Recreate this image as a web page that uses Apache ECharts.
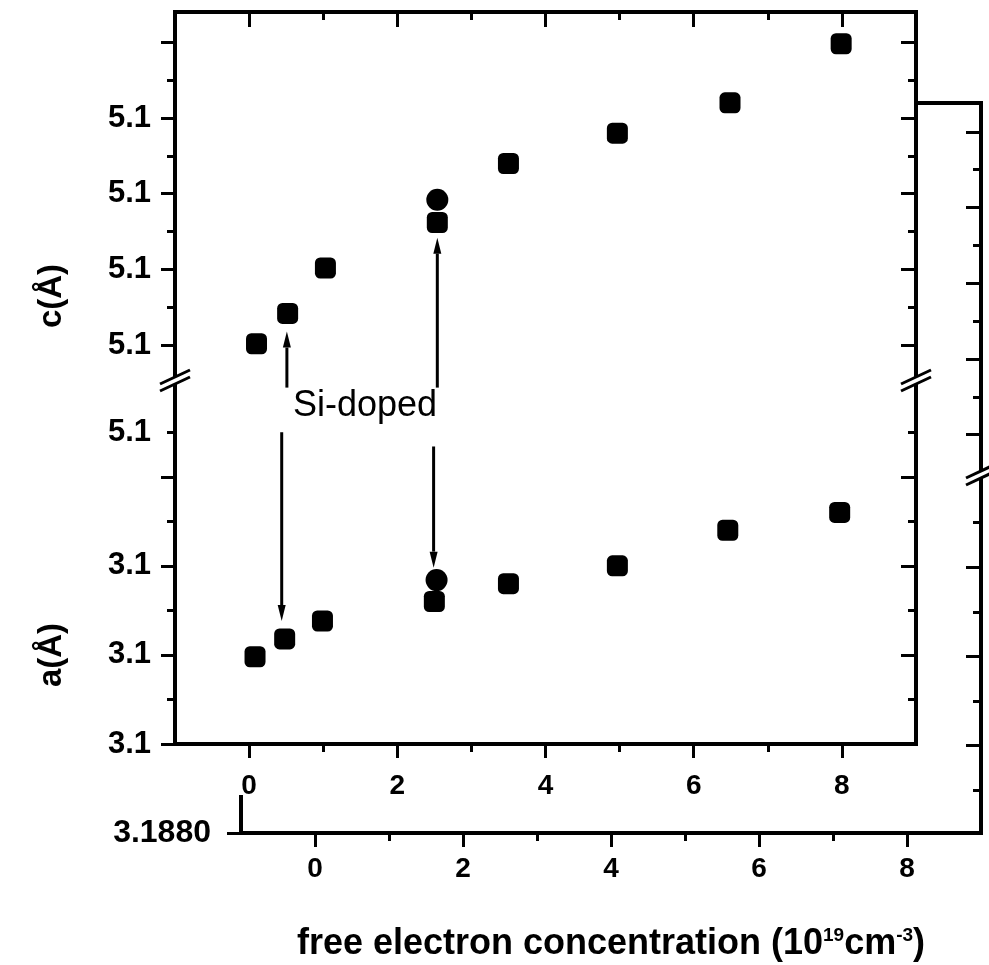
<!DOCTYPE html>
<html><head><meta charset="utf-8">
<script src="https://cdn.jsdelivr.net/npm/echarts@6/dist/echarts.min.js"></script>
<style>html,body{margin:0;padding:0;background:#fff}#c{width:989px;height:965px}</style>
</head><body><div id="c"></div>
<script>
// ---------- data ----------
const cSquaresX = [0.10, 0.52, 1.03, 2.54, 3.50, 4.97, 6.49, 7.99];
const cSquaresY = [5.18401, 5.18421, 5.18451, 5.18481, 5.18520, 5.18540, 5.18560, 5.18599];
const cCirclesX = [2.54];
const cCirclesY = [5.18496];
const aSquaresX = [0.08, 0.48, 0.99, 2.50, 3.50, 4.97, 6.46, 7.97];
const aSquaresY = [3.18849, 3.18859, 3.18869, 3.18880, 3.18890, 3.18900, 3.18920, 3.18930];
const aCirclesX = [2.53];
const aCirclesY = [3.18892];
// annotation arrows: [x, from, to]
const cArrows = [[0.51, 5.18372, 5.18409], [2.54, 5.18372, 5.18471]];
const aArrows = [[0.44, 3.18975, 3.18869], [2.49, 3.18967, 3.18899]];

// ---------- axes / ticks ----------
const xRange = [-1, 9];
const xMajorTicks = [0, 2, 4, 6, 8];
const xMinorTicks = [1, 3, 5, 7];
const xLabelValues = [0, 2, 4, 6, 8];
const xLabelTexts = ['0', '2', '4', '6', '8'];

const cRange = [5.18379, 5.18620];
const cMajor = [5.1840, 5.1845, 5.1850, 5.1855, 5.1860];
const cMinor = [5.18425, 5.18475, 5.18525, 5.18575];
const cLabelValues = [5.1840, 5.1845, 5.1850, 5.1855];
const cLabelTexts = ['5.1', '5.1', '5.1', '5.1'];

const aRange = [3.1880, 3.19006];
const aMajor = [3.1880, 3.1885, 3.1890, 3.1895];
const aMinor = [3.18825, 3.18875, 3.18925, 3.18975];
const aLabelValues = [3.1880, 3.1885, 3.1890, 3.18975];
const aLabelTexts = ['3.1', '3.1', '3.1', '5.1'];

const backCRange = [5.18376, 5.18619];
const backARange = [3.18801, 3.19004];
const backAMajor = [3.1885, 3.1890, 3.1895];
const backAMinor = [3.18825, 3.18875, 3.18925, 3.18975];
const backALabelValues = [3.18801];
const backALabelTexts = ['3.1880'];

const xTitle = 'free electron concentration (10{sup|19}cm{sup|-3})';
const cTitle = 'c(Å)';
const aTitle = 'a(Å)';
const noteText = 'Si-doped';

// ---------- layout ----------
const FONT = "'Liberation Sans', Arial, Helvetica, sans-serif";
const F = {left: 175, width: 741, top: 12, brk: 377, bottom: 744};
const B = {left: 241, width: 740, top: 103, brk: 471, bottom: 833};

function lookup(values, texts) {
  return function (v) {
    const i = values.findIndex(t => Math.abs(t - v) < 1e-7);
    return i >= 0 ? texts[i] : '';
  };
}

function mkAxis(o) {
  const ax = {
    type: 'value', gridIndex: o.grid, position: o.pos, min: o.range[0], max: o.range[1],
    z: o.z, silent: true, splitLine: {show: false}, axisPointer: {show: false},
    axisLine: {show: !!o.line, onZero: false, lineStyle: {color: '#000', width: 4, cap: 'square'}},
    axisTick: o.ticks ? {show: true, inside: !!o.inside, length: o.len, customValues: o.ticks,
      lineStyle: {color: '#000', width: 3}} : {show: false},
    axisLabel: o.labels ? {show: true, customValues: o.labels, formatter: o.fmt, margin: o.margin,
      color: '#000', fontFamily: FONT, fontWeight: 'bold', fontSize: o.fs} : {show: false}
  };
  if (o.extra) Object.assign(ax, o.extra);
  return ax;
}

const FZ = 3, BZ = 0;
const xAxes = [
  // grid 0: front upper (c)
  mkAxis({grid: 0, pos: 'top', range: xRange, z: FZ, line: true, ticks: xMajorTicks, inside: true, len: 15}),
  mkAxis({grid: 0, pos: 'top', range: xRange, z: FZ, ticks: xMinorTicks, inside: true, len: 8}),
  // grid 1: front lower (a)
  mkAxis({grid: 1, pos: 'bottom', range: xRange, z: FZ, line: true, ticks: xMajorTicks, len: 14,
    labels: xLabelValues, fmt: lookup(xLabelValues, xLabelTexts), margin: 28, fs: 28}),
  mkAxis({grid: 1, pos: 'bottom', range: xRange, z: FZ, ticks: xMinorTicks, len: 8}),
  // grid 2: back upper
  mkAxis({grid: 2, pos: 'top', range: xRange, z: BZ, line: true}),
  // grid 3: back lower
  mkAxis({grid: 3, pos: 'bottom', range: xRange, z: BZ, line: true, ticks: xMajorTicks, len: 14,
    labels: xLabelValues, fmt: lookup(xLabelValues, xLabelTexts), margin: 22, fs: 28,
    extra: {name: xTitle, nameLocation: 'middle', nameGap: 93,
      nameTextStyle: {color: '#000', fontFamily: FONT, fontWeight: 'bold', fontSize: 36,
        rich: {sup: {fontFamily: FONT, fontWeight: 'bold', fontSize: 19, verticalAlign: 'top', color: '#000'}}}}}),
  mkAxis({grid: 3, pos: 'bottom', range: xRange, z: BZ, ticks: xMinorTicks, len: 8})
];

const yAxes = [
  // front upper (c)
  mkAxis({grid: 0, pos: 'left', range: cRange, z: FZ, line: true, ticks: cMajor, len: 14,
    labels: cLabelValues, fmt: lookup(cLabelValues, cLabelTexts), margin: 24, fs: 31}),
  mkAxis({grid: 0, pos: 'left', range: cRange, z: FZ, ticks: cMinor, len: 8}),
  mkAxis({grid: 0, pos: 'right', range: cRange, z: FZ, line: true, ticks: cMajor, inside: true, len: 15}),
  mkAxis({grid: 0, pos: 'right', range: cRange, z: FZ, ticks: cMinor, inside: true, len: 8}),
  // front lower (a)
  mkAxis({grid: 1, pos: 'left', range: aRange, z: FZ, line: true, ticks: aMajor, len: 14,
    labels: aLabelValues, fmt: lookup(aLabelValues, aLabelTexts), margin: 24, fs: 31}),
  mkAxis({grid: 1, pos: 'left', range: aRange, z: FZ, ticks: aMinor, len: 8}),
  mkAxis({grid: 1, pos: 'right', range: aRange, z: FZ, line: true, ticks: aMajor, inside: true, len: 15}),
  mkAxis({grid: 1, pos: 'right', range: aRange, z: FZ, ticks: aMinor, inside: true, len: 8}),
  // back upper (c)
  mkAxis({grid: 2, pos: 'right', range: backCRange, z: BZ, line: true, ticks: cMajor, inside: true, len: 15}),
  mkAxis({grid: 2, pos: 'right', range: backCRange, z: BZ, ticks: cMinor, inside: true, len: 8}),
  // back lower (a)
  mkAxis({grid: 3, pos: 'right', range: backARange, z: BZ, line: true, ticks: backAMajor, inside: true, len: 15}),
  mkAxis({grid: 3, pos: 'right', range: backARange, z: BZ, ticks: backAMinor, inside: true, len: 8}),
  mkAxis({grid: 3, pos: 'left', range: backARange, z: BZ, line: true, ticks: backALabelValues, len: 14,
    labels: backALabelValues, fmt: lookup(backALabelValues, backALabelTexts), margin: 30, fs: 32})
];

function zip(xs, ys) { return xs.map((x, i) => [x, ys[i]]); }

function arrowItem(params, api) {
  const x = api.value(0);
  const p0 = api.coord([x, api.value(1)]);
  const p1 = api.coord([x, api.value(2)]);
  const dir = p1[1] > p0[1] ? 1 : -1;
  const hl = 16, hw = 4;
  return {
    type: 'group', children: [
      {type: 'line', shape: {x1: p0[0], y1: p0[1], x2: p1[0], y2: p1[1] - dir * hl},
        style: {stroke: '#000', lineWidth: 3}},
      {type: 'polygon', shape: {points: [[p1[0], p1[1]], [p1[0] - hw, p1[1] - dir * hl], [p1[0] + hw, p1[1] - dir * hl]]},
        style: {fill: '#000'}}
    ]
  };
}

const markerStyle = {color: '#000', opacity: 1};
const series = [
  {type: 'scatter', xAxisIndex: 0, yAxisIndex: 0, data: zip(cSquaresX, cSquaresY), symbol: 'roundRect', symbolSize: 21, itemStyle: markerStyle, z: 4, silent: true},
  {type: 'scatter', xAxisIndex: 0, yAxisIndex: 0, data: zip(cCirclesX, cCirclesY), symbol: 'circle', symbolSize: 22, itemStyle: markerStyle, z: 4, silent: true},
  {type: 'scatter', xAxisIndex: 2, yAxisIndex: 4, data: zip(aSquaresX, aSquaresY), symbol: 'roundRect', symbolSize: 21, itemStyle: markerStyle, z: 4, silent: true},
  {type: 'scatter', xAxisIndex: 2, yAxisIndex: 4, data: zip(aCirclesX, aCirclesY), symbol: 'circle', symbolSize: 22, itemStyle: markerStyle, z: 4, silent: true},
  {type: 'custom', xAxisIndex: 0, yAxisIndex: 0, data: cArrows, renderItem: arrowItem, clip: false, z: 4, silent: true,
    encode: {x: 0, y: [1, 2]}},
  {type: 'custom', xAxisIndex: 2, yAxisIndex: 4, data: aArrows, renderItem: arrowItem, clip: false, z: 4, silent: true,
    encode: {x: 0, y: [1, 2]}}
];

function breakMark(cx, cy) {
  return {
    type: 'group', z: 6, silent: true, children: [
      {type: 'polygon', z: 6, shape: {points: [[cx - 15, cy + 4], [cx + 15, cy - 10], [cx + 15, cy - 3], [cx - 15, cy + 11]]},
        style: {fill: '#fff'}},
      {type: 'line', z: 7, shape: {x1: cx - 15, y1: cy + 4, x2: cx + 15, y2: cy - 10}, style: {stroke: '#000', lineWidth: 3}},
      {type: 'line', z: 7, shape: {x1: cx - 15, y1: cy + 11, x2: cx + 15, y2: cy - 3}, style: {stroke: '#000', lineWidth: 3}}
    ]
  };
}

const graphic = [
  // front panel covers the frame behind it
  {type: 'rect', z: 1, silent: true, shape: {x: F.left - 15, y: 0, width: F.width + 16, height: 795}, style: {fill: '#fff'}},
  breakMark(F.left, F.brk + 3),
  breakMark(F.left + F.width, F.brk + 3),
  breakMark(B.left + B.width, B.brk + 3),
  {type: 'text', z: 6, silent: true, x: 52, y: 296, rotation: Math.PI / 2,
    style: {text: cTitle, fontFamily: FONT, fontWeight: 'bold', fontSize: 33, fill: '#000', align: 'center', verticalAlign: 'middle'}},
  {type: 'text', z: 6, silent: true, x: 52, y: 655, rotation: Math.PI / 2,
    style: {text: aTitle, fontFamily: FONT, fontWeight: 'bold', fontSize: 33, fill: '#000', align: 'center', verticalAlign: 'middle'}},
  {type: 'text', z: 6, silent: true, x: 365, y: 406,
    style: {text: noteText, fontFamily: FONT, fontSize: 36, fill: '#000', align: 'center', verticalAlign: 'middle'}}
];

const chart = echarts.init(document.getElementById('c'), null, {renderer: 'canvas'});
chart.setOption({
  animation: false,
  backgroundColor: '#fff',
  grid: [
    {left: F.left, top: F.top, width: F.width, height: F.brk - F.top, outerBoundsMode: 'none'},
    {left: F.left, top: F.brk, width: F.width, height: F.bottom - F.brk, outerBoundsMode: 'none'},
    {left: B.left, top: B.top, width: B.width, height: B.brk - B.top, outerBoundsMode: 'none'},
    {left: B.left, top: B.brk, width: B.width, height: B.bottom - B.brk, outerBoundsMode: 'none'}
  ],
  xAxis: xAxes,
  yAxis: yAxes,
  series: series,
  graphic: graphic
});
</script></body></html>
